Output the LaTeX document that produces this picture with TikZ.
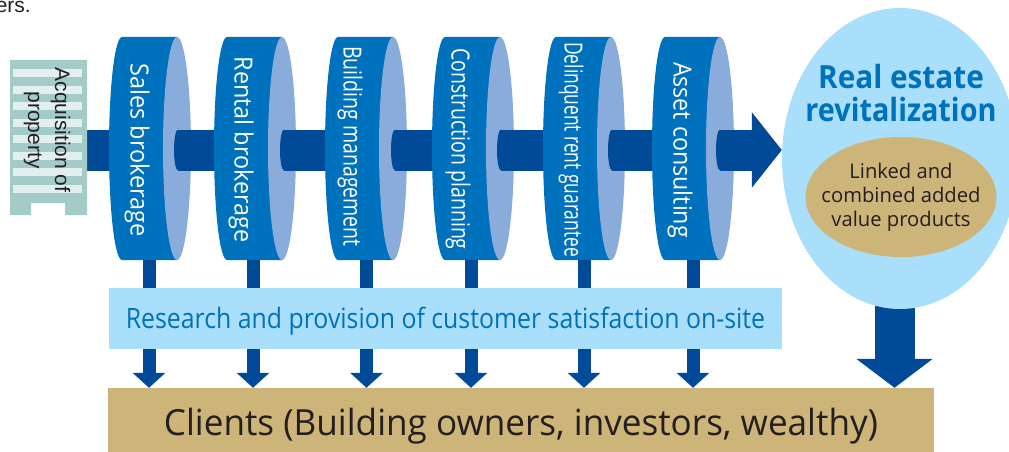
\documentclass[tikz,border=0pt]{standalone}
\usepackage{fontspec}
\setmainfont{Open Sans}
\newfontfamily\arialfont{Liberation Sans}
\usetikzlibrary{arrows.meta,shapes.geometric}
\definecolor{discblue}{HTML}{0071BC}
\definecolor{facecol}{HTML}{89ACDA}
\definecolor{barcol}{HTML}{004A97}
\definecolor{skycol}{HTML}{A9DFFB}
\definecolor{sandcol}{HTML}{CDB479}
\definecolor{inkcol}{HTML}{231F20}
\definecolor{towercol}{HTML}{A3CCC9}
\definecolor{stripecol}{HTML}{E3EFEF}
\tikzset{
	bar/.style={barcol, line width=41pt},
	stem/.style={barcol, line width=13pt},
	drop/.style={stem, -{Triangle[width=32pt,length=15pt]}},
	disctext/.style={white, rotate=-90, inner sep=0pt, font=\fontsize{25}{25}\selectfont},
}
\begin{document}
\begin{tikzpicture}[x=1pt, y=-1pt]
	\useasboundingbox (0,0) rectangle (1009,452);
	\node[anchor=east, inner sep=0pt, inkcol, font=\arialfont\fontsize{21}{21}\selectfont] (cutoff) at (31,6.5) {ers.};
	% boxes at the bottom
	\node[fill=skycol, minimum width=673pt, minimum height=61pt, inner sep=0pt] (research) at (445.5,318.5) {};
	\node[anchor=base, discblue, font=\fontsize{28}{28}\selectfont] (researchtext) at (445.5,328) {\scalebox{0.887}[1]{Research and provision of customer satisfaction on-site}};
	\node[fill=sandcol, minimum width=826pt, minimum height=64pt, inner sep=0pt] (clients) at (521,420) {};
	\node[anchor=base, inkcol, font=\fontsize{36}{36}\selectfont] (clientstext) at (521,435) {\scalebox{0.975}[1]{Clients (Building owners, investors, wealthy)}};
	% discs
	\foreach \l/\b/\s/\tx/\ty/\w/\lbl [count=\i] in {
		109/80/149/137/150/0.94/Sales brokerage,
		214/174/253/241/149.5/0.935/Rental brokerage,
		325/280/366.5/350/146.5/0.78/Building management,
		432/391/471/458/149/0.78/Construction planning,
		543/497/584/571/149.5/0.695/Delinquent rent guarantee,
		652/608/693/680/150/0.93/Asset consulting} {
		\coordinate (hub\i) at (\l+68,150);
		\coordinate (start\i) at (\b+4,150);
		\coordinate (foot\i) at (\s,260);
		\fill[barcol] (start\i) ellipse (4 and 20.5);
		\draw[bar] (start\i) -- (hub\i);
		\fill[discblue] (\l+13,37) arc[start angle=270, end angle=90, x radius=13, y radius=111.5] -- (\l+68,260) -- (\l+68,37) -- cycle;
		\fill[facecol] (hub\i) ++(0,-1.5) ellipse (14 and 111.5);
		\node[disctext] (disc\i) at (\tx,\ty) {\scalebox{\w}[1]{\lbl}};
		\draw[stem] (foot\i) -- (foot\i |- research.north);
		\draw[drop] (foot\i |- research.south) -- (foot\i |- clients.north);
	}
	% building on the left
	\fill[towercol] (10,60) -- (87,60) -- (87,215) -- (65,215) -- (65,203) -- (31,203) -- (31,215) -- (10,215) -- cycle;
	\foreach \y in {69,85.5,102,118.5,135,152,168,185}
		\fill[stripecol] (13,\y) rectangle (82,\y+8);
	\node[rotate=-90, align=center, inkcol, inner sep=0pt, font=\arialfont\fontsize{21}{27}\selectfont] (property) at (47,130) {Acquisition of\\property};
	% circle on the right
	\coordinate (outlet) at (894.5,300);
	\draw[barcol, line width=40pt, -{Triangle[width=75pt,length=29pt]}] (outlet) -- (outlet |- clients.north);
	\node[ellipse, fill=skycol, minimum width=236pt, minimum height=301pt, inner sep=0pt] (revital) at (900,158.5) {};
	\node[ellipse, fill=sandcol, minimum width=191pt, minimum height=120pt, inner sep=0pt] (products) at (901,197) {};
	\node[align=center, inkcol, inner sep=0pt, font=\fontsize{20.2}{24}\selectfont] (productstext) at (901,197) {Linked and\\combined added\\value products};
	\node[align=center, discblue, inner sep=0pt, font=\bfseries\fontsize{32}{33.5}\selectfont] (revitaltext) at (901,93) {\scalebox{0.93}[1]{Real estate}\\\scalebox{0.9}[1]{revitalization}};
	\coordinate (start7) at (720,150);
	\fill[barcol] (start7) ellipse (4 and 20.5);
	\draw[barcol, line width=41pt, -{Triangle[width=74pt,length=30pt]}] (start7) -- (start7 -| revital.west);
\end{tikzpicture}
\end{document}
